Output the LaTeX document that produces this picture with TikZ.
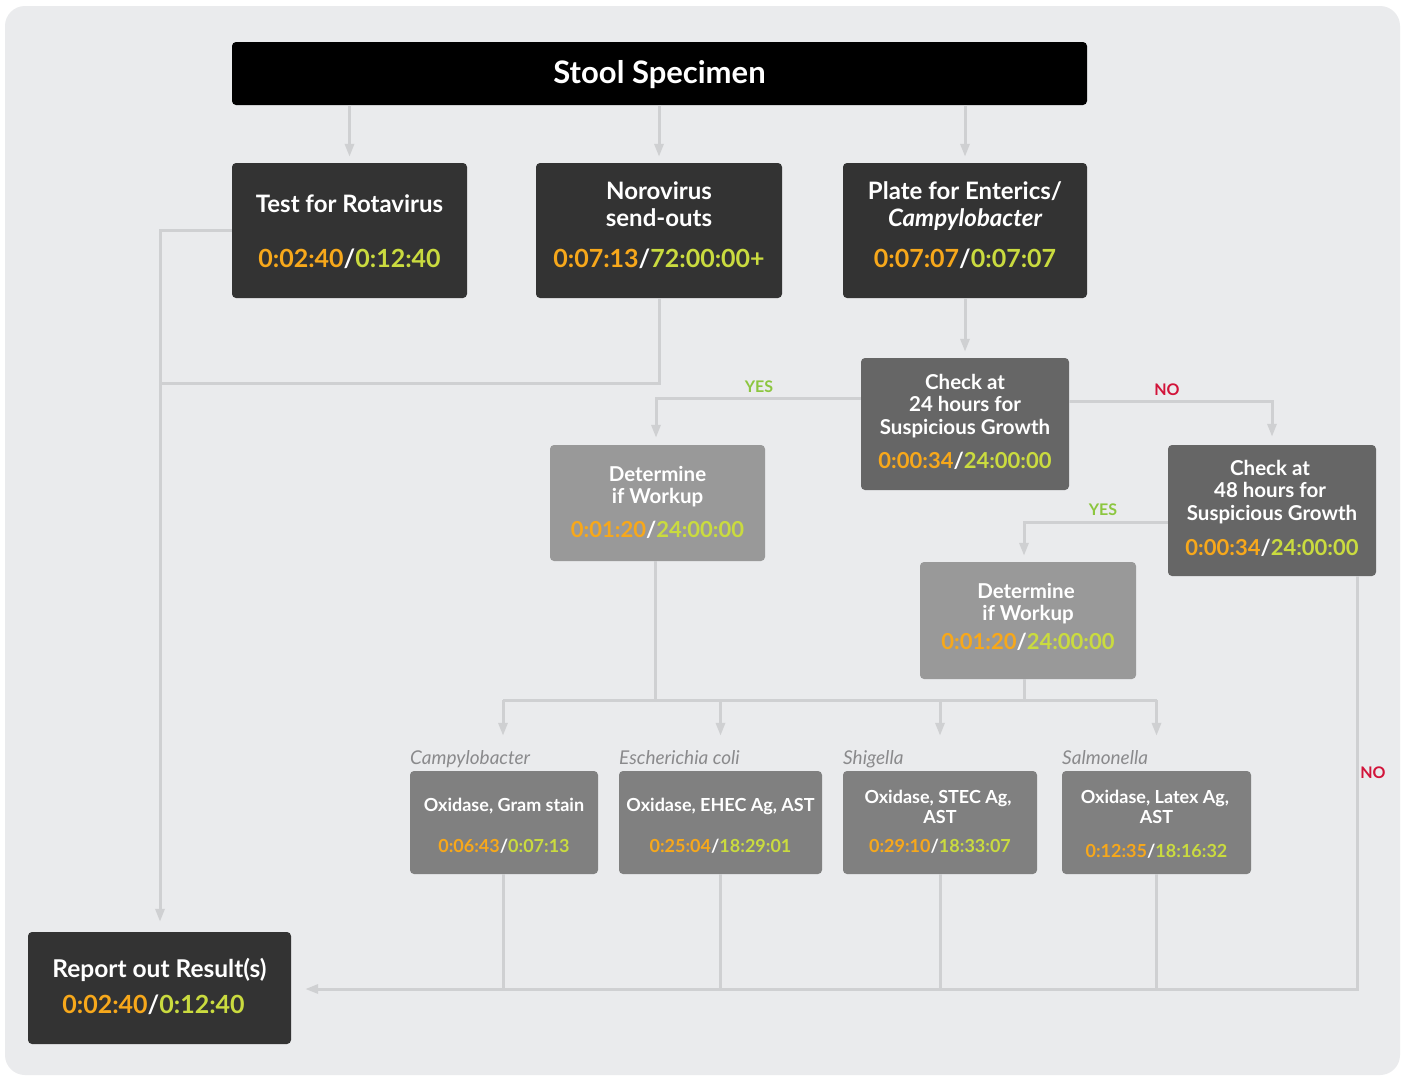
\documentclass[tikz,border=0pt]{standalone}
\usepackage{fontspec}
\setmainfont{Lato}
\usetikzlibrary{arrows.meta}
\definecolor{bgc}{HTML}{EAEBED}
\definecolor{linec}{HTML}{CFD0D2}
\definecolor{tA}{HTML}{F7A81B}
\definecolor{tB}{HTML}{CADB3F}
\definecolor{yesc}{HTML}{8CC63F}
\definecolor{noc}{HTML}{D2143A}
\definecolor{boxA}{HTML}{333333}
\definecolor{boxB}{HTML}{666666}
\definecolor{boxC}{HTML}{999999}
\definecolor{boxD}{HTML}{808080}
\definecolor{labc}{HTML}{8A8A8C}
\newcommand{\tmpair}[2]{\textcolor{tA}{#1}\textcolor{white}{/}\textcolor{tB}{#2}}
\tikzset{
  boxbase/.style={rounded corners=4pt, inner sep=0pt, draw=none},
  ttl/.style={text=white, font=\bfseries, align=center, inner sep=0pt, anchor=base},
  conn/.style={draw=linec, line width=3pt},
  arr/.style={conn, -{Triangle[width=9pt,length=13pt]}},
  yeslab/.style={text=yesc, font=\bfseries\fontsize{16}{16}\selectfont, inner sep=0pt},
  nolab/.style={text=noc, font=\bfseries\fontsize{16}{16}\selectfont, inner sep=0pt},
  species/.style={text=labc, font=\itshape\fontsize{19}{19}\selectfont, anchor=base west, inner sep=0pt}
}
\begin{document}
\begin{tikzpicture}[x=1pt,y=-1pt]
\useasboundingbox (0,0) rectangle (1405,1076);
\fill[white] (0,0) rectangle (1405,1076);
\fill[bgc, rounded corners=20pt] (5,6) rectangle (1400,1075);

% boxes
\node[boxbase, fill=black, minimum width=855pt, minimum height=63pt] (stool) at (659.5,73.5) {};
\node[boxbase, fill=boxA, minimum width=235pt, minimum height=135pt] (rota) at (349.5,230.5) {};
\node[boxbase, fill=boxA, minimum width=246pt, minimum height=135pt] (noro) at (659,230.5) {};
\node[boxbase, fill=boxA, minimum width=244pt, minimum height=135pt] (plate) at (965,230.5) {};
\node[boxbase, fill=boxB, minimum width=208pt, minimum height=132pt] (c24) at (965,424) {};
\node[boxbase, fill=boxC, minimum width=215pt, minimum height=116pt] (det1) at (657.5,503) {};
\node[boxbase, fill=boxB, minimum width=208pt, minimum height=131pt] (c48) at (1272,510.5) {};
\node[boxbase, fill=boxC, minimum width=216pt, minimum height=117pt] (det2) at (1028,620.5) {};
\node[boxbase, fill=boxD, minimum width=188pt, minimum height=103pt] (campy) at (504,822.5) {};
\node[boxbase, fill=boxD, minimum width=203pt, minimum height=103pt] (ecoli) at (720.5,822.5) {};
\node[boxbase, fill=boxD, minimum width=194pt, minimum height=103pt] (shig) at (940,822.5) {};
\node[boxbase, fill=boxD, minimum width=189pt, minimum height=103pt] (salm) at (1156.5,822.5) {};
\node[boxbase, fill=boxA, minimum width=263pt, minimum height=112pt] (report) at (159.5,988) {};

% texts
\node[ttl, font=\bfseries\fontsize{31}{31}\selectfont] (stoolT) at (659.5,83) {Stool Specimen};
\node[ttl, font=\bfseries\fontsize{24}{24}\selectfont] (rotaT) at (349.5,212.5) {Test for Rotavirus};
\node[ttl, font=\bfseries\fontsize{25}{25}\selectfont] (rotaM) at (349.5,267.5) {\tmpair{0:02:40}{0:12:40}};
\node[ttl, font=\bfseries\fontsize{24}{24}\selectfont] (noroT1) at (659,199.5) {Norovirus};
\node[ttl, font=\bfseries\fontsize{24}{24}\selectfont] (noroT2) at (659,226.5) {send-outs};
\node[ttl, font=\bfseries\fontsize{25}{25}\selectfont] (noroM) at (659,267.5) {\tmpair{0:07:13}{72:00:00+}};
\node[ttl, font=\bfseries\fontsize{24}{24}\selectfont] (plateT1) at (965,199.5) {Plate for Enterics/};
\node[ttl, font=\bfseries\itshape\fontsize{24}{24}\selectfont] (plateT2) at (965,226.5) {Campylobacter};
\node[ttl, font=\bfseries\fontsize{25}{25}\selectfont] (plateM) at (965,267.5) {\tmpair{0:07:07}{0:07:07}};

\node[ttl, font=\bfseries\fontsize{20.5}{20.5}\selectfont] (c24T1) at (965,389.5) {Check at};
\node[ttl, font=\bfseries\fontsize{20.5}{20.5}\selectfont] (c24T2) at (965,411.5) {24 hours for};
\node[ttl, font=\bfseries\fontsize{20.5}{20.5}\selectfont] (c24T3) at (965,434.5) {Suspicious Growth};
\node[ttl, font=\bfseries\fontsize{22}{22}\selectfont] (c24M) at (965,468.5) {\tmpair{0:00:34}{24:00:00}};

\node[ttl, font=\bfseries\fontsize{20.5}{20.5}\selectfont] (det1T1) at (657.5,481.5) {Determine};
\node[ttl, font=\bfseries\fontsize{20.5}{20.5}\selectfont] (det1T2) at (657.5,503.5) {if Workup};
\node[ttl, font=\bfseries\fontsize{22}{22}\selectfont] (det1M) at (657.5,537.5) {\tmpair{0:01:20}{24:00:00}};

\node[ttl, font=\bfseries\fontsize{20.5}{20.5}\selectfont] (c48T1) at (1270,475.5) {Check at};
\node[ttl, font=\bfseries\fontsize{20.5}{20.5}\selectfont] (c48T2) at (1270,497.5) {48 hours for};
\node[ttl, font=\bfseries\fontsize{20.5}{20.5}\selectfont] (c48T3) at (1272,520.5) {Suspicious Growth};
\node[ttl, font=\bfseries\fontsize{22}{22}\selectfont] (c48M) at (1272,555.5) {\tmpair{0:00:34}{24:00:00}};

\node[ttl, font=\bfseries\fontsize{20.5}{20.5}\selectfont] (det2T1) at (1026,598.5) {Determine};
\node[ttl, font=\bfseries\fontsize{20.5}{20.5}\selectfont] (det2T2) at (1028,620.5) {if Workup};
\node[ttl, font=\bfseries\fontsize{22}{22}\selectfont] (det2M) at (1028,649.5) {\tmpair{0:01:20}{24:00:00}};

\node[ttl, font=\bfseries\fontsize{18}{18}\selectfont] (campyT) at (504,811.5) {Oxidase, Gram stain};
\node[ttl, font=\bfseries\fontsize{18}{18}\selectfont] (campyM) at (504,852.5) {\tmpair{0:06:43}{0:07:13}};
\node[ttl, font=\bfseries\fontsize{18}{18}\selectfont] (ecoliT) at (720.5,811.5) {Oxidase, EHEC Ag, AST};
\node[ttl, font=\bfseries\fontsize{18}{18}\selectfont] (ecoliM) at (720.5,852.5) {\tmpair{0:25:04}{18:29:01}};
\node[ttl, font=\bfseries\fontsize{18}{18}\selectfont] (shigT1) at (938,803.5) {Oxidase, STEC Ag,};
\node[ttl, font=\bfseries\fontsize{18}{18}\selectfont] (shigT2) at (940,823.5) {AST};
\node[ttl, font=\bfseries\fontsize{18}{18}\selectfont] (shigM) at (940,852.5) {\tmpair{0:29:10}{18:33:07}};
\node[ttl, font=\bfseries\fontsize{18}{18}\selectfont] (salmT1) at (1155,803.5) {Oxidase, Latex Ag,};
\node[ttl, font=\bfseries\fontsize{18}{18}\selectfont] (salmT2) at (1156.5,823.5) {AST};
\node[ttl, font=\bfseries\fontsize{18}{18}\selectfont] (salmM) at (1156.5,857.5) {\tmpair{0:12:35}{18:16:32}};

\node[ttl, font=\bfseries\fontsize{24.5}{24.5}\selectfont] (reportT) at (159.5,977) {Report out Result(s)};
\node[ttl, font=\bfseries\fontsize{25}{25}\selectfont] (reportM) at (153.5,1013.5) {\tmpair{0:02:40}{0:12:40}};

% species labels
\node[species] (campyL) at (410,764) {Campylobacter};
\node[species] (ecoliL) at (619,764) {Escherichia coli};
\node[species] (shigL) at (843,764) {Shigella};
\node[species] (salmL) at (1062,764) {Salmonella};

% connectors
\draw[arr, shorten >=6pt] (stool.south -| rota) -- (rota.north);
\draw[arr, shorten >=6pt] (stool.south -| noro) -- (noro.north);
\draw[arr, shorten >=6pt] (stool.south -| plate) -- (plate.north);

\coordinate (joinL) at (160,383);
\draw[arr, shorten >=10pt] (rota.west) -| ([xshift=0.5pt]report.north);
\draw[conn] (noro.south) |- (joinL);

\draw[arr, shorten >=6pt] (plate.south) -- (c24.north);

\draw[arr, shorten >=7pt] ([yshift=26pt]c24.west) -| ([xshift=-1.5pt]det1.north);
\node[yeslab] (yes1) at (759,387) {YES};
\draw[arr, shorten >=8pt] ([yshift=23pt]c24.east) -| (c48.north);
\node[nolab] (no1) at (1167,390) {NO};

\draw[arr, shorten >=6pt] ([yshift=-11.5pt]c48.west) -| ([xshift=-4pt]det2.north);
\node[yeslab] (yes2) at (1103,510) {YES};

\draw[arr, shorten >=14pt] ([xshift=85pt]c48.south) |- ([yshift=-1pt]report.east);
\node[nolab] (no2) at (1373,773) {NO};

\coordinate (busL) at (503,700);
\coordinate (busR) at (1157,700);
\draw[conn] (busL) -- (busR);
\draw[conn] ([xshift=-2.5pt]det1.south) -- ([xshift=-2.5pt]det1.south |- busL);
\draw[conn] ([xshift=-4pt]det2.south) -- ([xshift=-4pt]det2.south |- busL);

\draw[arr, shorten >=35pt] ([xshift=-1pt]campy.north |- busL) -- ([xshift=-1pt]campy.north);
\draw[arr, shorten >=35pt] (ecoli.north |- busL) -- (ecoli.north);
\draw[arr, shorten >=35pt] (shig.north |- busL) -- (shig.north);
\draw[arr, shorten >=35pt] (salm.north |- busL) -- (salm.north);

\draw[conn] ([xshift=-1pt]campy.south) -- ([xshift=-1pt,yshift=-1pt]campy.south |- report.east);
\draw[conn] (ecoli.south) -- ([yshift=-1pt]ecoli.south |- report.east);
\draw[conn] (shig.south) -- ([yshift=-1pt]shig.south |- report.east);
\draw[conn] (salm.south) -- ([yshift=-1pt]salm.south |- report.east);
\end{tikzpicture}
\end{document}
